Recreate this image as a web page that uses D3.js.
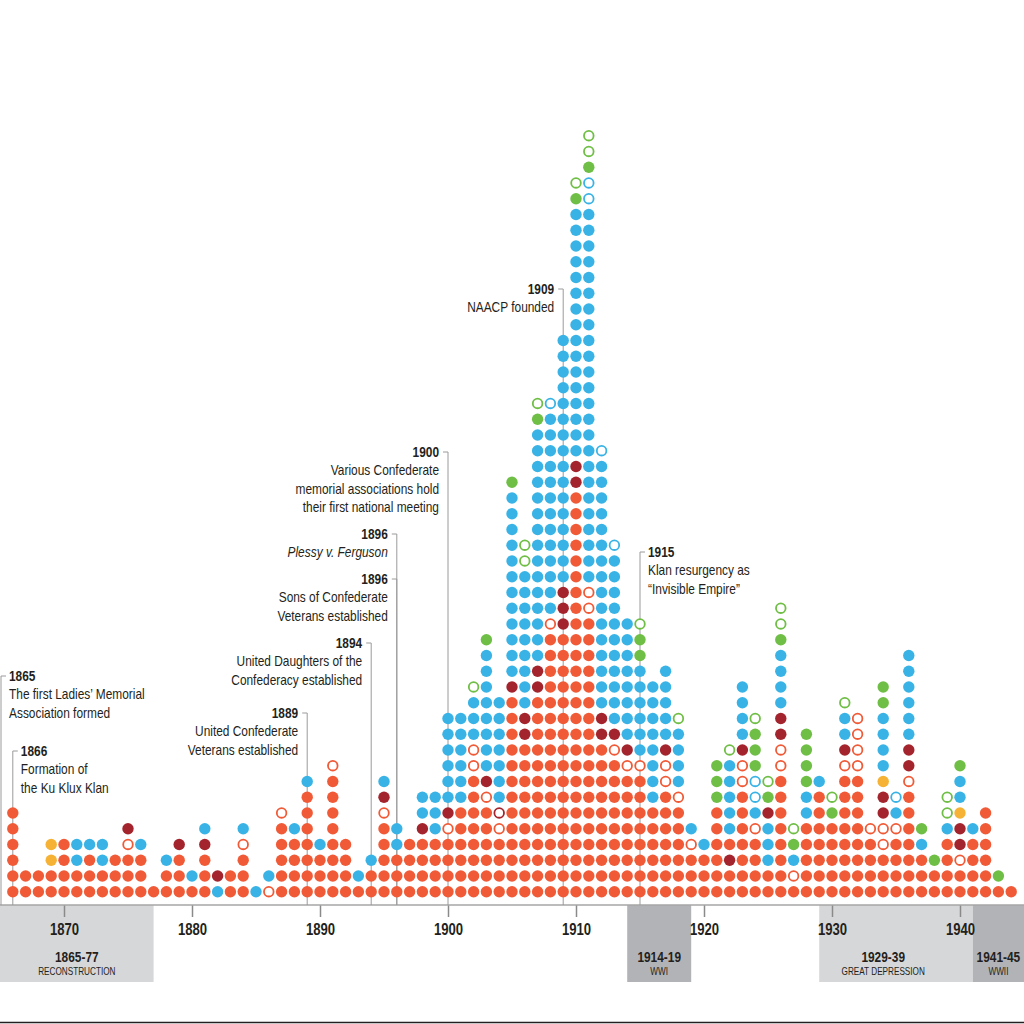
<!DOCTYPE html>
<html>
<head>
<meta charset="utf-8">
<script src="https://cdn.jsdelivr.net/npm/d3@7/dist/d3.min.js"></script>
<style>
  html, body { margin: 0; padding: 0; background: #fff; }
  svg { display: block; }
  text { font-family: "Liberation Sans", Arial, sans-serif; fill: #231f20; }
</style>
</head>
<body>
<svg id="chart" width="1024" height="1024"></svg>
<script>
// ---------- DATA ----------
// One string per year, bottom dot first.
// O orange, B blue, D dark red, G green, Y yellow; lower case = hollow ring.
const firstYear = 1866;
const yearColumns = [
  "OOOOOO",            // 1866
  "OO",                // 1867
  "OO",                // 1868
  "OOYY",              // 1869
  "OOOO",              // 1870
  "OOBB",              // 1871
  "OOOB",              // 1872
  "OOBB",              // 1873
  "OOO",               // 1874
  "OOOoD",             // 1875
  "OOOB",              // 1876
  "O",                 // 1877
  "OOB",               // 1878
  "OOOD",              // 1879
  "OB",                // 1880
  "OOODB",             // 1881
  "BD",                // 1882
  "OO",                // 1883
  "OOOoB",             // 1884
  "B",                 // 1885
  "oB",                // 1886
  "OOOOOo",            // 1887
  "OOOOB",             // 1888
  "OOOOOOOB",          // 1889
  "OOOB",              // 1890
  "OOOOOOOOo",         // 1891
  "OOOO",              // 1892
  "OB",                // 1893
  "OOB",               // 1894
  "OOOOOoDB",          // 1895
  "OOOBB",             // 1896
  "OOOO",              // 1897
  "OOOODBB",           // 1898
  "OOOOBBB",           // 1899
  "OOOOoDBBBBBB",      // 1900
  "OOOOOOBBBBBB",      // 1901
  "OOOOOOOOooBBBg",    // 1902
  "OOOOOOoDBBBBBBBBG", // 1903
  "OOOOodBBBBBBB",     // 1904
  "OOOOOOOOOOOOODBBBBBBBBBBBBG",                        // 1905
  "OOOOOOOOOODDBBBBBBBBBgg",                            // 1906
  "OOOOOOOOOOOOODDBBBBBBBBBBBBBBBGg",                   // 1907
  "OOOOOOOOOOOOOOOOOoBBBBBBBBBBBBBb",                   // 1908
  "OOOOOOOOOOOOOOOOODDDBBBBBBBBBBBBBBBB",               // 1909
  "OOOOOOOOOOOOOOOOOOOOOOOOOODDBBBBBBBBBBBBBBBBGg",     // 1910
  "OOOOOOOOOOOOOOOOOOooBBBBBBBBBBBBBBBBBBBBBBBBbbGgg",  // 1911
  "OOOOOOOOOODDBBBBBBBBBBBBBBBBb",                      // 1912
  "OOOOOOOOOoDBBBBBBBBBBBb",                            // 1913
  "OOOOOOOOoDBBBBBBBB",  // 1914
  "OOOOOOOOoBBBBBBGGg",  // 1915
  "OOOOOOBBBBBBBB",      // 1916
  "OOOOOOOooDBBBBB",     // 1917
  "OOOOOOoBBBBg",        // 1918
  "OOOoB",               // 1919
  "OOOB",                // 1920
  "OOOOOOGGG",           // 1921
  "OODOBBBBBg",          // 1922
  "OOOOOOOooDBBBB",      // 1923
  "OOOOoBbbGGGg",        // 1924
  "OOBBBDGg",            // 1925
  "OOOOOOOOooDDBBBBGgg", // 1926
  "OoBGg",               // 1927
  "OOOOOBBGGGG",         // 1928
  "OOOOOOOB",            // 1929
  "OOOOOGg",             // 1930
  "OOOOOOOOoDBBg",       // 1931
  "OOOOOOOOoooo",        // 1932
  "OOOOo",               // 1933
  "OOOooDDYBBBBGG",      // 1934
  "OOOOoBb",             // 1935
  "OOOOOOOoDDBBBBBB",    // 1936
  "OOOBG",               // 1937
  "OOG",                 // 1938
  "OOOOBgg",             // 1939
  "OOoDDYBBG",           // 1940
  "OOOOB",               // 1941
  "OOOOOO",              // 1942
  "OG",                  // 1943
  "O"                    // 1944
];

const decadeTicks = [1870, 1880, 1890, 1900, 1910, 1920, 1930, 1940];

const periodLabels = ["1865-77", "1914-19", "1929-39", "1941-45"];
const periodNames  = ["RECONSTRUCTION", "WWI", "GREAT DEPRESSION", "WWII"];
const periodStart  = [1865, 1914, 1929, 1941];
const periodEnd    = [1877, 1919, 1939, 1945];
const periodBoxEnd = [1877, 1919, 1941, 1945];
const periodDark   = [false, true, false, true];

const eventYears = [1865, 1866, 1889, 1894, 1896, 1896, 1900, 1909, 1915];
const eventTexts = [
  ["The first Ladies\u2019 Memorial", "Association formed"],
  ["Formation of", "the Ku Klux Klan"],
  ["United Confederate", "Veterans established"],
  ["United Daughters of the", "Confederacy established"],
  ["Sons of Confederate", "Veterans established"],
  ["Plessy v. Ferguson"],
  ["Various Confederate", "memorial associations hold", "their first national meeting"],
  ["NAACP founded"],
  ["Klan resurgency as", "\u201CInvisible Empire\u201D"]
];

// ---------- LAYOUT / STYLE ----------
const W = 1024, H = 1024;
const axisY = 905;
const palette = { O: "#f15a36", B: "#39b3e5", D: "#a3242c", G: "#6fbe45", Y: "#f5b234" };
const eventSide = ["right", "right", "left", "left", "left", "left", "left", "left", "right"];
const eventTop  = [681, 756, 718, 648, 584, 539, 457, 294, 557];   // baseline of year label
const eventItalic = [false, false, false, false, false, true, false, false, false];

const svg = d3.select("#chart");
svg.append("rect").attr("width", W).attr("height", H).attr("fill", "#fff");

const x = d3.scaleLinear().domain([1870, 1940]).range([64, 960]);
const y = d3.scaleLinear().domain([0, 48]).range([891.7, 135.7]);

function narrowText(g, tx, ty, anchor, size, sx) {
  return g.append("text")
    .attr("transform", `translate(${tx},${ty}) scale(${sx},1)`)
    .attr("x", 0).attr("y", 0)
    .attr("text-anchor", anchor).attr("font-size", size);
}

// flatten dots
const dots = [];
yearColumns.forEach((col, i) => {
  const year = firstYear + i;
  col.split("").forEach((c, k) => {
    dots.push({ year, row: k, code: c.toUpperCase(), hollow: c !== c.toUpperCase() });
  });
});

// period boxes
const periods = periodLabels.map((l, i) => ({
  label: l, name: periodNames[i], start: periodStart[i], end: periodEnd[i],
  boxEnd: periodBoxEnd[i], dark: periodDark[i]
}));
const pg = svg.append("g");
periods.forEach(p => {
  const x0 = Math.max(0, x(p.start));
  const x1 = Math.min(W, x(p.boxEnd));
  pg.append("rect").attr("x", x0).attr("y", axisY).attr("width", x1 - x0).attr("height", 77)
    .attr("fill", p.dark ? "#b2b3b6" : "#d6d7d9");
  const cx = x((p.start + p.end) / 2);
  narrowText(pg, cx, 962, "middle", 14.5, 0.82).attr("font-weight", "bold").text(p.label);
  narrowText(pg, cx, 975, "middle", 10, 0.82).attr("fill", "#333").text(p.name);
});

// axis
const axis = d3.axisBottom(x).tickValues(decadeTicks).tickSize(12).tickPadding(0).tickFormat(d3.format("d"));
const ag = svg.append("g").attr("transform", `translate(0,${axisY})`).call(axis);
ag.select(".domain").remove();
ag.selectAll(".tick line").attr("stroke", "#8a8a8a").attr("stroke-width", 1.5);
ag.selectAll(".tick text")
  .attr("y", 30).attr("dy", null)
  .attr("transform", "scale(0.82,1)")
  .attr("font-size", 16).attr("font-weight", "bold")
  .attr("fill", "#231f20")
  .style("font-family", "'Liberation Sans', Arial, sans-serif");
svg.append("line").attr("x1", 0).attr("x2", W).attr("y1", axisY).attr("y2", axisY)
  .attr("stroke", "#a6a6a6").attr("stroke-width", 1.5);

// annotation leader lines (behind dots)
const lg = svg.append("g").attr("stroke", "#9a9a9a").attr("stroke-width", 1).attr("fill", "none");
eventYears.forEach((yr, i) => {
  const lx = Math.max(1, x(yr));
  const ty = eventTop[i] - 5;
  const dir = eventSide[i] === "right" ? 1 : -1;
  lg.append("path").attr("d", `M${lx + dir * 5},${ty}H${lx}V${axisY}`);
});

// dots
svg.append("g").selectAll("circle").data(dots).join("circle")
  .attr("cx", d => x(d.year))
  .attr("cy", d => y(d.row))
  .attr("r", d => d.hollow ? 4.8 : 5.7)
  .attr("fill", d => d.hollow ? "#fff" : palette[d.code])
  .attr("stroke", d => d.hollow ? palette[d.code] : "none")
  .attr("stroke-width", d => d.hollow ? 1.8 : 0);

// annotation texts
const tg = svg.append("g");
eventYears.forEach((yr, i) => {
  const lx = Math.max(1, x(yr));
  const right = eventSide[i] === "right";
  const tx = right ? lx + 8 : lx - 9;
  const anchor = right ? "start" : "end";
  const t = narrowText(tg, tx, eventTop[i], anchor, 14, 0.85);
  t.append("tspan").attr("x", 0).attr("font-weight", "bold").text(String(yr));
  eventTexts[i].forEach(line => {
    t.append("tspan").attr("x", 0).attr("dy", 18.5)
      .attr("font-style", eventItalic[i] ? "italic" : "normal").text(line);
  });
});

// bottom rule
svg.append("line").attr("x1", 0).attr("x2", W).attr("y1", 1022.5).attr("y2", 1022.5)
  .attr("stroke", "#231f20").attr("stroke-width", 1.6);
</script>
</body>
</html>
